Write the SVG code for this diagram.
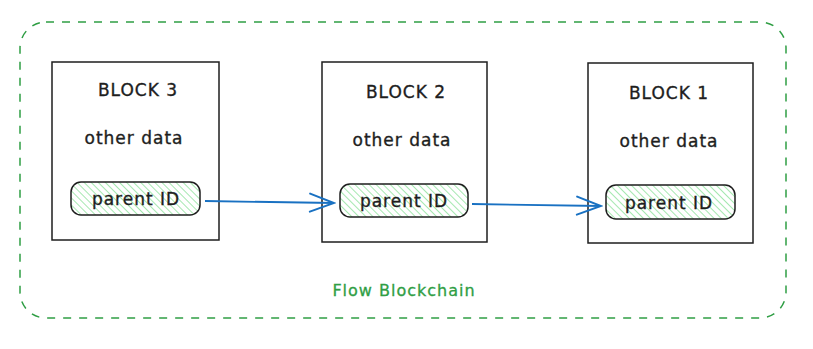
<svg xmlns="http://www.w3.org/2000/svg" width="813" height="349" viewBox="0 0 813 349">
<defs>
<pattern id="hatch" patternUnits="userSpaceOnUse" width="5" height="5" patternTransform="rotate(-45)">
<rect width="5" height="5" fill="#ffffff"/>
<line x1="0" y1="0" x2="0" y2="5" stroke="#a5e8b0" stroke-width="2"/>
</pattern>
<marker id="arrow" markerWidth="30" markerHeight="24" refX="28" refY="12" orient="auto" markerUnits="userSpaceOnUse">
<path d="M4,3 L28,12 L4,21" fill="none" stroke="#1971c2" stroke-width="2" stroke-linecap="round"/>
</marker>
</defs>
<style>
.frame{fill:none;stroke:#2f9e44;stroke-width:1.5;stroke-dasharray:8 8}
.block{fill:#ffffff;stroke:#1e1e1e;stroke-width:1.5}
.pill{fill:url(#hatch);stroke:#1e1e1e;stroke-width:1.5}
.t{font-family:"DejaVu Sans","Liberation Sans",sans-serif;font-size:17px;letter-spacing:1px;fill:#1e1e1e;stroke:#1e1e1e;stroke-width:0.35;text-anchor:middle;dominant-baseline:central}
.cap{font-family:"DejaVu Sans","Liberation Sans",sans-serif;font-size:16px;letter-spacing:1px;fill:#2f9e44;stroke:#2f9e44;stroke-width:0.3;text-anchor:middle;dominant-baseline:central}
.conn{fill:none;stroke:#1971c2;stroke-width:1.8;marker-end:url(#arrow)}
</style>
<rect id="frame" class="frame" x="20" y="22" width="766" height="296" rx="26"/>
<text class="cap" x="404" y="290">Flow Blockchain</text>
<g id="block3">
<rect class="block" x="52" y="62" width="167" height="178"/>
<text class="t" x="138" y="90">BLOCK 3</text>
<text class="t" x="134" y="138">other data</text>
<rect class="pill" x="71" y="182" width="129" height="33" rx="10"/>
<text class="t" x="136" y="199">parent ID</text>
</g>
<g id="block2">
<rect class="block" x="322" y="62" width="165" height="180"/>
<text class="t" x="406" y="92">BLOCK 2</text>
<text class="t" x="402" y="140">other data</text>
<rect class="pill" x="340" y="184" width="128" height="33" rx="10"/>
<text class="t" x="404" y="201">parent ID</text>
</g>
<g id="block1">
<rect class="block" x="588" y="63" width="165" height="180"/>
<text class="t" x="669" y="93">BLOCK 1</text>
<text class="t" x="669" y="141">other data</text>
<rect class="pill" x="606" y="185" width="129" height="34" rx="10"/>
<text class="t" x="669" y="203">parent ID</text>
</g>
<g id="connectors">
<path class="conn" d="M205,201 L334,203"/>
<path class="conn" d="M472,204 L601,206"/>
</g>
</svg>
